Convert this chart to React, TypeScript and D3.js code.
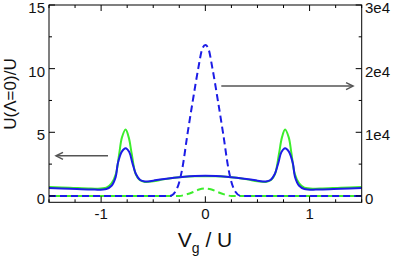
import React from "react";
import * as d3 from "d3";

// ---- data ----
const greenSolidX = [-1.5, -1.3, -1.1, -0.95, -0.9, -0.857, -0.826, -0.8, -0.765, -0.735, -0.707, -0.67, -0.63, -0.58, -0.5, -0.4, -0.3, -0.2, -0.1, 0,
  0.1, 0.2, 0.3, 0.4, 0.5, 0.58, 0.63, 0.67, 0.707, 0.735, 0.765, 0.8, 0.826, 0.857, 0.9, 0.95, 1.1, 1.3, 1.5];
const greenSolidY = [0.70, 0.65, 0.58, 0.64, 0.98, 1.76, 3.34, 4.6, 5.22, 4.6, 3.34, 1.76, 1.25, 1.1, 1.15, 1.3, 1.42, 1.5, 1.54, 1.55,
  1.54, 1.5, 1.42, 1.3, 1.15, 1.1, 1.25, 1.76, 3.34, 4.6, 5.22, 4.6, 3.34, 1.76, 0.98, 0.64, 0.58, 0.65, 0.70];

const blueSolidX = [-1.5, -1.3, -1.1, -0.95, -0.9, -0.86, -0.84, -0.8, -0.765, -0.73, -0.7, -0.665, -0.625, -0.58, -0.5, -0.435, -0.3, -0.2, -0.1, 0,
  0.1, 0.2, 0.3, 0.435, 0.5, 0.58, 0.625, 0.665, 0.7, 0.73, 0.765, 0.8, 0.84, 0.86, 0.9, 0.95, 1.1, 1.3, 1.5];
const blueSolidY = [0.62, 0.56, 0.5, 0.55, 0.8, 1.5, 2.55, 3.5, 3.75, 3.45, 2.6, 1.7, 1.25, 1.14, 1.2, 1.29, 1.43, 1.51, 1.56, 1.58,
  1.56, 1.51, 1.43, 1.29, 1.2, 1.14, 1.25, 1.7, 2.6, 3.45, 3.75, 3.5, 2.55, 1.5, 0.8, 0.55, 0.5, 0.56, 0.62];

const blueDashX = [-1.5, -0.34, -0.29, -0.25, -0.221, -0.173, -0.122, -0.068, -0.03, 0, 0.03, 0.068, 0.122, 0.173, 0.221, 0.25, 0.29, 0.34, 1.5];
const blueDashY = [0, 0, 620, 2200, 4320, 9560, 14800, 20040, 23100, 23720, 23100, 20040, 14800, 9560, 4320, 2200, 620, 0, 0];

const greenDashX = [-1.5, -0.25, -0.18, -0.116, -0.06, 0, 0.06, 0.116, 0.18, 0.25, 1.5];
const greenDashY = [0, 0, 250, 620, 1000, 1160, 1000, 620, 250, 0, 0];

const xMajor = [-1, 0, 1];
const xMajorLabels = ["-1", "0", "1"];
const yLeftMajor = [0, 5, 10, 15];
const yLeftLabels = ["0", "5", "10", "15"];
const yRightMajor = [0, 10000, 20000, 30000];
const yRightLabels = ["0", "1e4", "2e4", "3e4"];

const GREEN = "#3ced2c";
const BLUE = "#1c1ce6";
const GRAY = "#555555";

export default function App() {
  const W = 395, H = 262;
  const L = 49, R = 361.7, T = 5, B = 202.3;
  const x = d3.scaleLinear().domain([-1.5, 1.5]).range([L, R]);
  const yL = d3.scaleLinear().domain([-0.5, 15]).range([B, T]);
  const yR = d3.scaleLinear().domain([-1000, 30000]).range([B, T]);

  const curve = d3.curveCatmullRom.alpha(0.5);
  const lineL = (xs: number[], ys: number[]) =>
    d3.line<number>().x((_, i) => x(xs[i])).y((v) => yL(v)).curve(curve)(ys) || "";
  const lineR = (xs: number[], ys: number[]) =>
    d3.line<number>().x((_, i) => x(xs[i])).y((v) => yR(v)).curve(d3.curveMonotoneX)(ys) || "";

  const xMinor = d3.range(-1.5, 1.5001, 0.25);
  const yMinor = d3.range(0, 15.001, 2.5);

  const font = "'Liberation Sans', Arial, Helvetica, sans-serif";

  // arrows (in data units)
  const la = { y: 3.15, x1: -0.934, x2: -1.433 };
  const ra = { y: 17260, x1: 0.153, x2: 1.417 };
  const lay = yL(la.y), lx1 = x(la.x1), lx2 = x(la.x2);
  const ray = yR(ra.y), rx1 = x(ra.x1), rx2 = x(ra.x2);

  return (
    <svg width={W} height={H} style={{ position: "absolute", left: 0, top: 0, display: "block", background: "#fff" }}>
      <defs>
        <clipPath id="plot">
          <rect x={L} y={T} width={R - L} height={B - T} />
        </clipPath>
      </defs>
      <g clipPath="url(#plot)" fill="none" strokeLinejoin="round">
        <path d={lineR(greenDashX, greenDashY)} stroke={GREEN} strokeWidth={2} strokeDasharray="7,4" strokeDashoffset={5} />
        <path d={lineR(blueDashX, blueDashY)} stroke={BLUE} strokeWidth={2} strokeDasharray="7,4" />
        <path d={lineL(greenSolidX, greenSolidY)} stroke={GREEN} strokeWidth={2} />
        <path d={lineL(blueSolidX, blueSolidY)} stroke={BLUE} strokeWidth={2} />
      </g>

      {/* arrows */}
      <g stroke={GRAY} strokeWidth={1.5} fill="none">
        <line x1={lx1} y1={lay} x2={lx2} y2={lay} />
        <polyline points={`${lx2 + 7},${lay - 3.5} ${lx2},${lay} ${lx2 + 7},${lay + 3.5}`} />
        <line x1={rx1} y1={ray} x2={rx2} y2={ray} />
        <polyline points={`${rx2 - 7},${ray - 3.5} ${rx2},${ray} ${rx2 - 7},${ray + 3.5}`} />
      </g>

      {/* frame */}
      <rect x={L} y={T} width={R - L} height={B - T} fill="none" stroke="#000" strokeWidth={1} />

      {/* ticks */}
      <g stroke="#000" strokeWidth={1}>
        {xMinor.map((v, i) => {
          const major = xMajor.some((m) => Math.abs(m - v) < 1e-6);
          const len = major ? 6 : 3;
          return (
            <g key={"xt" + i}>
              <line x1={x(v)} x2={x(v)} y1={B} y2={B - len} />
              <line x1={x(v)} x2={x(v)} y1={T} y2={T + len} />
            </g>
          );
        })}
        {yMinor.map((v, i) => {
          const major = yLeftMajor.some((m) => Math.abs(m - v) < 1e-6);
          const len = major ? 6 : 3;
          return <line key={"yl" + i} x1={L} x2={L + len} y1={yL(v)} y2={yL(v)} />;
        })}
        {d3.range(0, 30001, 5000).map((v, i) => {
          const major = yRightMajor.includes(v);
          const len = major ? 6 : 3;
          return <line key={"yr" + i} x1={R} x2={R - len} y1={yR(v)} y2={yR(v)} />;
        })}
      </g>

      {/* tick labels */}
      <g fontFamily={font} fontSize={15} fill="#111">
        {xMajor.map((v, i) => (
          <text key={"xl" + i} x={x(v)} y={219} textAnchor="middle">{xMajorLabels[i]}</text>
        ))}
        {yLeftMajor.map((v, i) => (
          <text key={"ylb" + i} x={45} y={yL(v) + 8} textAnchor="end">{yLeftLabels[i]}</text>
        ))}
        {yRightMajor.map((v, i) => (
          <text key={"yrb" + i} x={365} y={yR(v) + 8} textAnchor="start">{yRightLabels[i]}</text>
        ))}
      </g>

      {/* axis titles */}
      <text x={205} y={247} textAnchor="middle" fontFamily={font} fontSize={21} fill="#111">
        V<tspan fontSize={14} dy={6}>g</tspan><tspan dy={-6}> / U</tspan>
      </text>
      <text transform="translate(15.5,94) rotate(-90)" textAnchor="middle" fontFamily={font} fontSize={17} fill="#111">
        U(Λ=0)/U
      </text>
    </svg>
  );
}
